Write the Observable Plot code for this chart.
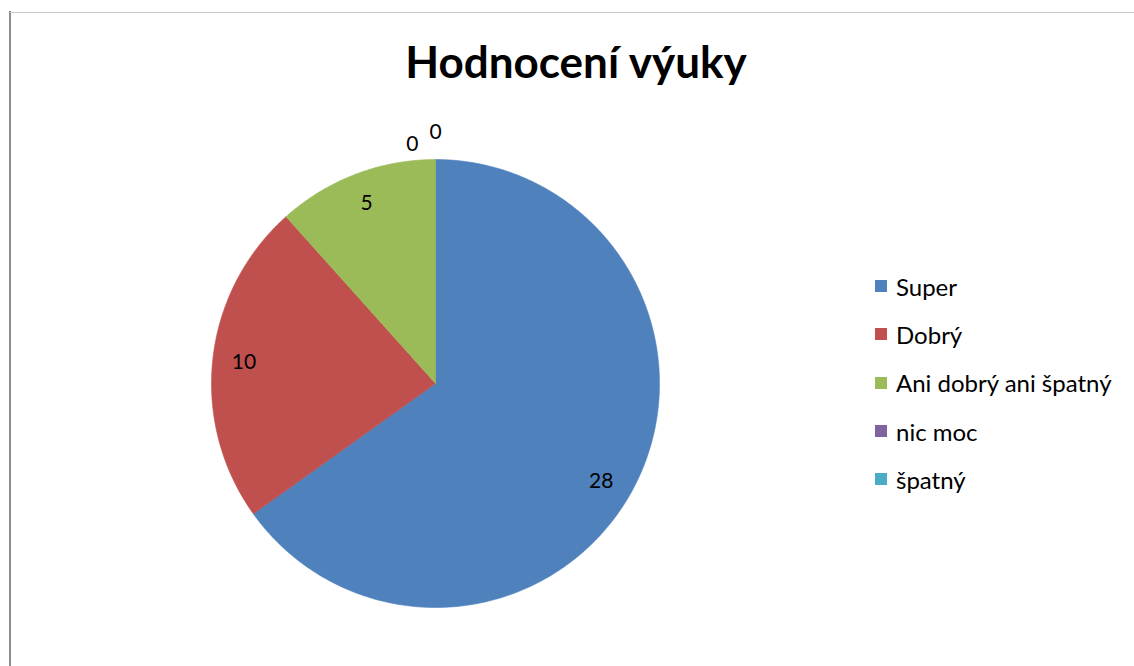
<!DOCTYPE html>
<html><head><meta charset="utf-8">
<script src="https://cdn.jsdelivr.net/npm/d3@7"></script>
<script src="https://cdn.jsdelivr.net/npm/@observablehq/plot@0.6"></script>
<style>
html,body{margin:0;padding:0;background:#fff;}
#wrap{position:relative;width:1134px;height:666px;overflow:hidden;font-family:Lato,"Open Sans",sans-serif;color:#000;}
#chart{position:absolute;left:0;top:0;}
#title{position:absolute;left:376px;width:400px;top:33px;text-align:center;font-weight:bold;font-size:44px;line-height:56px;white-space:nowrap;}
#legend{position:absolute;left:875px;top:273px;}
.item{position:absolute;left:0;height:26px;display:flex;align-items:center;white-space:nowrap;font-size:24px;}
.sw{width:12px;height:12px;margin-right:9px;flex:none;}
#bl{position:absolute;left:9px;top:11px;width:2px;height:660px;background:#8c8c8c;}
#bt{position:absolute;left:10px;top:12px;width:1130px;height:1px;background:#c8c8c8;}
</style></head>
<body><div id="wrap"><div id="bl"></div><div id="bt"></div><div id="title"></div><div id="chart"></div><div id="legend"></div></div>
<script>
const title = "Hodnocení výuky";
const categories = ["Super","Dobrý","Ani dobrý ani špatný","nic moc","špatný"];
const values = [28,10,5,0,0];
const colors = ["#4F81BD","#C0504D","#9BBB59","#8064A2","#4BACC6"];

const cx = 435, cy = 383, R = 224;

const data = categories.map((c,i)=>({category:c, value:values[i]}));
const arcs = d3.pie().sort(null).value(d=>d.value)(data);

// slice outlines (geometry from the pie angles)
const pts = [];
arcs.forEach(a=>{
  const span = a.endAngle - a.startAngle;
  if (span <= 0) return;
  const cat = a.data.category;
  pts.push({cat, x:0, y:0});
  const n = Math.max(2, Math.ceil(span/(Math.PI/360)));
  for (let k=0;k<=n;k++){
    const t = a.startAngle + span*k/n;
    pts.push({cat, x:Math.sin(t), y:Math.cos(t)});
  }
  pts.push({cat, x:0, y:0});
});

// data labels
let zeroCount = 0;
const labels = arcs.map((a,i)=>{
  let mid = (a.startAngle + a.endAngle)/2;
  if (a.data.value > 0) {
    const r = 0.86;
    if (i === 0) mid += 0.06;
    return {text:String(a.data.value), x:r*Math.sin(mid), y:r*Math.cos(mid)};
  }
  const k = zeroCount++;
  const r = 1.07 + k*0.05;
  return {text:String(a.data.value), x:r*Math.sin(mid) - (k===0 ? 0.103 : 0), y:r*Math.cos(mid)};
});

const plot = Plot.plot({
  width:1134, height:666, margin:0,
  style:{fontFamily:"Lato, 'Open Sans', sans-serif", fontSize:"21px", background:"transparent", color:"#000"},
  x:{domain:[-1,1], range:[cx-R, cx+R], axis:null},
  y:{domain:[-1,1], range:[cy+R, cy-R], axis:null},
  color:{domain:categories, range:colors},
  marks:[
    Plot.line(pts, {x:"x", y:"y", z:"cat", fill:"cat", stroke:"cat", strokeWidth:0.6, curve:"linear"}),
    Plot.text(labels, {x:"x", y:"y", text:"text", fill:"#000", fontSize:21})
  ]
});
document.getElementById("chart").appendChild(plot);
document.getElementById("title").textContent = title;

const rowY = [0, 48.3, 96.6, 145, 193.3];
const leg = document.getElementById("legend");
categories.forEach((c,i)=>{
  const it = document.createElement("div");
  it.className = "item";
  it.style.top = rowY[i] + "px";
  const sw = document.createElement("div");
  sw.className = "sw"; sw.style.background = colors[i];
  const tx = document.createElement("span");
  tx.textContent = c;
  it.appendChild(sw); it.appendChild(tx);
  leg.appendChild(it);
});
</script></body></html>
